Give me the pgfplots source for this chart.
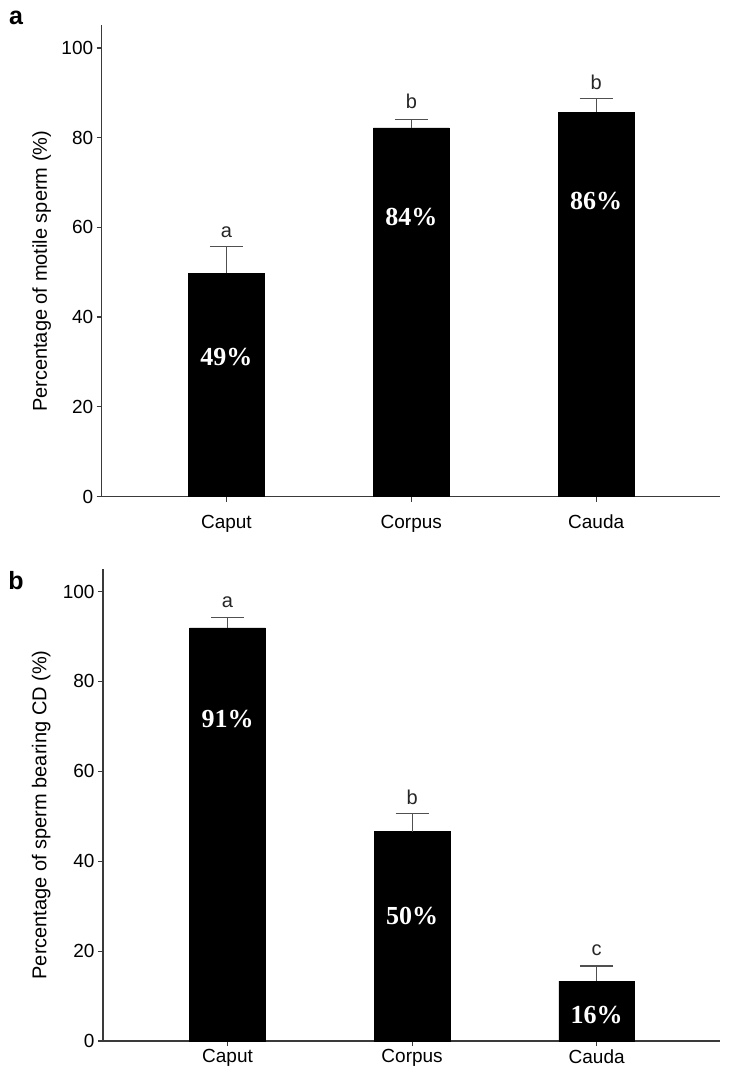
\documentclass[border=0pt]{standalone}
\usepackage{fontspec}
\setmainfont{Liberation Sans}
\newfontfamily\timesfont{Liberation Serif}
\usepackage{pgfplots}
\pgfplotsset{compat=1.18}
\usepackage{pgfplotstable}
\definecolor{axgray}{HTML}{3A3A3A}
\definecolor{errgray}{HTML}{505050}

\pgfplotstableread{
x y e
1 49.8 5.9
2 82.2 1.9
3 85.7 3.1
}\dataA
\pgfplotstableread{
x y e
1 91.9 2.3
2 46.6 4.1
3 13.3 3.4
}\dataB

\pgfplotsset{
  panel/.style={
    scale only axis,
    xmin=0.3254, xmax=3.668, ymin=0, ymax=105,
    axis x line=bottom, axis y line=left,
    axis line style={-, axgray, line width=1.2pt},
    tick style={axgray, line width=1.2pt},
    tick align=outside, major tick length=5pt,
    xtick={1,2,3}, xticklabels={Caput,Corpus,Cauda},
    ytick={0,20,40,60,80,100},
    /pgf/number format/assume math mode=true,
    tick label style={font=\fontsize{19}{22}\selectfont},
    label style={font=\fontsize{20}{24}\selectfont},
    clip=false,
  },
  bars/.style={
    ybar, bar width=0.41, fill=black, draw=black,
    error bars/.cd, y dir=plus, y explicit,
    error bar style={errgray, line width=1.2pt},
    error mark options={rotate=90, errgray, line width=1.2pt, mark size=16.5pt},
  },
}
\tikzset{
  pct/.style={font=\timesfont\bfseries\fontsize{26}{30}\selectfont, text=white},
  lettr/.style={font=\fontsize{20}{22}\selectfont, text=black!85},
}

\begin{document}
\begin{tikzpicture}
\useasboundingbox (0,0) rectangle (731pt,-1075pt);

\begin{axis}[panel, at={(101.7pt,-496.5pt)}, anchor=south west,
  width=618pt, height=471pt,
  xticklabel style={yshift=-10pt},
  ylabel={Percentage of motile sperm (\%)},
  ylabel style={at={(axis description cs:-0.097,0.478)}, anchor=center}]
  \addplot[bars] table[x=x, y=y, y error=e] {\dataA};
  \node[lettr] at (axis cs:1,59.0) {a};
  \node[lettr] at (axis cs:2,88.1) {b};
  \node[lettr] at (axis cs:3,92.4) {b};
  \node[pct] at (axis cs:1,31.1) {49\%};
  \node[pct] at (axis cs:2,62.4) {84\%};
  \node[pct] at (axis cs:3,65.8) {86\%};
\end{axis}

\begin{axis}[panel, at={(103pt,-1041pt)}, anchor=south west,
  width=617pt, height=472pt,
  ylabel={Percentage of sperm bearing CD (\%)},
  ylabel style={at={(axis description cs:-0.100,0.479)}, anchor=center}]
  \addplot[bars] table[x=x, y=y, y error=e] {\dataB};
  \node[lettr] at (axis cs:1,97.7) {a};
  \node[lettr] at (axis cs:2,54.3) {b};
  \node[lettr] at (axis cs:3,20.3) {c};
  \node[pct] at (axis cs:1,71.7) {91\%};
  \node[pct] at (axis cs:2,27.8) {50\%};
  \node[pct] at (axis cs:3,5.7) {16\%};
\end{axis}

\node[font=\bfseries\fontsize{25}{30}\selectfont] at (16pt,-18pt) {a};
\node[font=\bfseries\fontsize{25}{30}\selectfont] at (16pt,-581pt) {b};
\end{tikzpicture}
\end{document}
